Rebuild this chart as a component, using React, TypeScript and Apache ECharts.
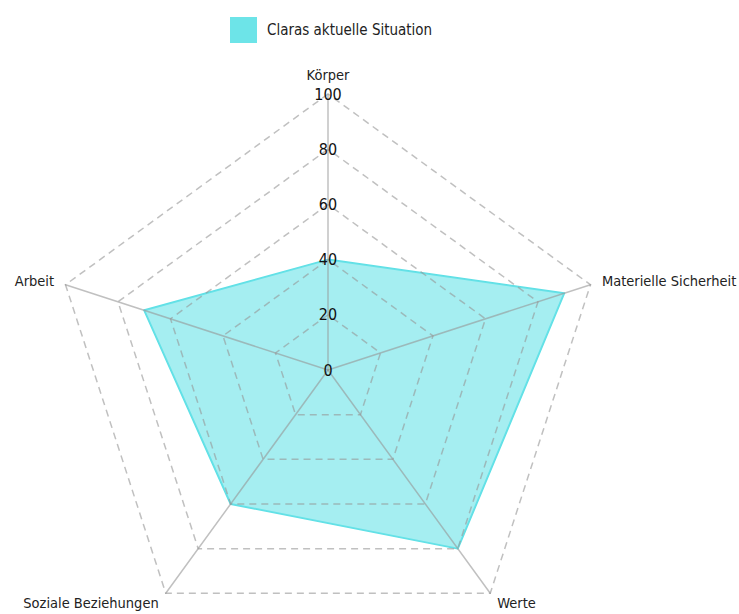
import React, { useEffect, useRef } from "react";
import * as echarts from "echarts";

// Listed counter-clockwise from the top (ECharts radar order)
const indicatorNames = ["Körper", "Arbeit", "Soziale Beziehungen", "Werte", "Materielle Sicherheit"];
const indicatorMax = [100, 100, 100, 100, 100];
const seriesName = "Claras aktuelle Situation";
const seriesValues = [40, 70, 60, 80, 90];

const FONT = "'DejaVu Sans Condensed', 'Liberation Sans Narrow', sans-serif";

export default function App() {
  const ref = useRef<HTMLDivElement>(null);
  useEffect(() => {
    document.body.style.margin = "0";
    if (!ref.current) return;
    const chart = echarts.init(ref.current, null, { renderer: "svg" });
    chart.setOption({
      animation: false,
      legend: {
        top: 12,
        left: 225,
        itemWidth: 27,
        itemHeight: 26,
        itemGap: 10,
        icon: "rect",
        textStyle: { fontFamily: FONT, fontSize: 15, color: "#222", padding: [0, 0, 0, 5] },
        data: [seriesName],
      },
      radar: {
        z: 3,
        center: [328, 370],
        radius: 276,
        startAngle: 90,
        shape: "polygon",
        splitNumber: 5,
        nameGap: 12,
        axisName: { color: "#222", fontFamily: FONT, fontSize: 14.5 },
        axisLine: { lineStyle: { color: "rgba(150,150,150,0.6)", width: 1.5 } },
        splitLine: { lineStyle: { color: "rgba(150,150,150,0.6)", width: 1.5, type: [7, 5] } },
        splitArea: { show: false },
        axisLabel: { show: false },
        indicator: indicatorNames.map((n, i) => ({
          name: n,
          max: indicatorMax[i],
          min: 0,
          ...(i === 0
            ? {
                axisLabel: {
                  show: true,
                  margin: 0,
                  color: "#111",
                  fontFamily: FONT,
                  fontSize: 16,
                  align: "center",
                  verticalAlign: "middle",
                },
              }
            : {}),
        })),
      },
      series: [
        {
          type: "radar",
          z: 1,
          name: seriesName,
          symbol: "none",
          lineStyle: { color: "#5fe0e6", width: 2 },
          itemStyle: { color: "#6de4e8" },
          areaStyle: { color: "#6de4e8", opacity: 0.62 },
          data: [{ value: seriesValues, name: seriesName }],
        },
      ],
    });
    return () => chart.dispose();
  }, []);
  return <div ref={ref} style={{ width: 739, height: 614 }} />;
}
